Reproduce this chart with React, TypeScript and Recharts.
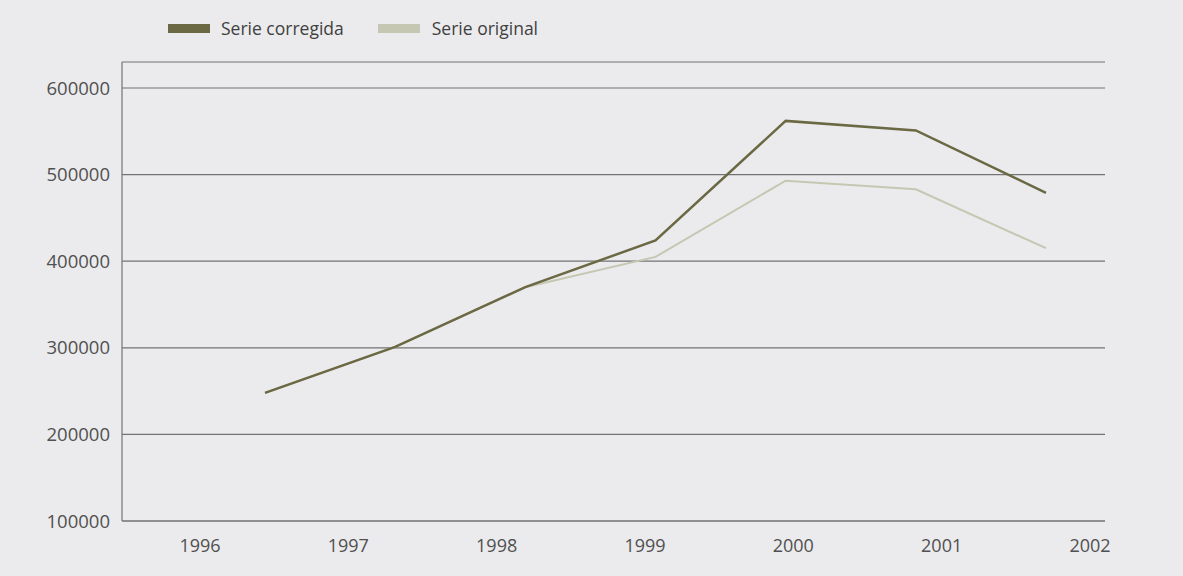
import React from "react";
import { LineChart, Line, XAxis, YAxis, CartesianGrid } from "recharts";

const years = ["1996", "1997", "1998", "1999", "2000", "2001", "2002"];
const serieCorregida = [248000, 301000, 370000, 424000, 562000, 551000, 479000];
const serieOriginal = [248000, 301000, 370000, 405000, 493000, 483000, 415000];
const yTicks = [100000, 200000, 300000, 400000, 500000, 600000];
const labelTicks = [0, 1, 2, 3, 4, 5, 6];

const data = years.map((y, i) => ({
  year: y,
  corregida: serieCorregida[i],
  original: serieOriginal[i],
}));

const FONT = "'Open Sans', 'DejaVu Sans', sans-serif";
const DARK = "#6b6944";
const LIGHT = "#c6c7b2";
const GRID = "#737373";
const TEXT = "#505050";

export default function App() {
  return (
    <div
      style={{
        position: "absolute",
        left: 0,
        top: 0,
        width: 1183,
        height: 576,
        background: "#ebebed",
        fontFamily: FONT,
        overflow: "hidden",
      }}
    >
      <div
        style={{
          position: "absolute",
          left: 168,
          top: 16,
          display: "flex",
          alignItems: "center",
          fontSize: 17.5,
          color: "#3f3f3f",
        }}
      >
        <span style={{ display: "inline-block", width: 42, height: 9, background: DARK, marginRight: 11 }} />
        <span style={{ marginRight: 34 }}>Serie corregida</span>
        <span style={{ display: "inline-block", width: 42, height: 9, background: LIGHT, marginRight: 12 }} />
        <span>Serie original</span>
      </div>
      <LineChart
        width={1183}
        height={576}
        data={data}
        margin={{ top: 62, right: 78, bottom: 0, left: 0 }}
      >
        <CartesianGrid vertical={false} stroke={GRID} strokeWidth={1.2} />
        <XAxis
          xAxisId={0}
          dataKey="year"
          hide
          height={0}
          padding={{ left: 143, right: 59 }}
        />
        <XAxis
          xAxisId="labels"
          type="number"
          domain={[0, 6]}
          ticks={labelTicks}
          tickFormatter={(v: number) => years[v]}
          padding={{ left: 78, right: 15 }}
          height={55}
          tickLine={false}
          tickSize={0}
          tickMargin={18}
          axisLine={{ stroke: GRID, strokeWidth: 1.2 }}
          tick={{ fill: TEXT, fontSize: 18, fontFamily: FONT }}
          allowDataOverflow
        />
        <YAxis
          width={122}
          domain={[100000, 630000]}
          ticks={yTicks}
          tickLine={false}
          tickSize={0}
          tickMargin={12}
          axisLine={{ stroke: GRID, strokeWidth: 1.2 }}
          tick={{ fill: TEXT, fontSize: 18.5, fontFamily: FONT }}
          allowDataOverflow
        />
        <Line
          type="linear"
          dataKey="original"
          stroke={LIGHT}
          strokeWidth={2}
          dot={false}
          isAnimationActive={false}
        />
        <Line
          type="linear"
          dataKey="corregida"
          stroke={DARK}
          strokeWidth={2.5}
          dot={false}
          isAnimationActive={false}
        />
      </LineChart>
    </div>
  );
}
